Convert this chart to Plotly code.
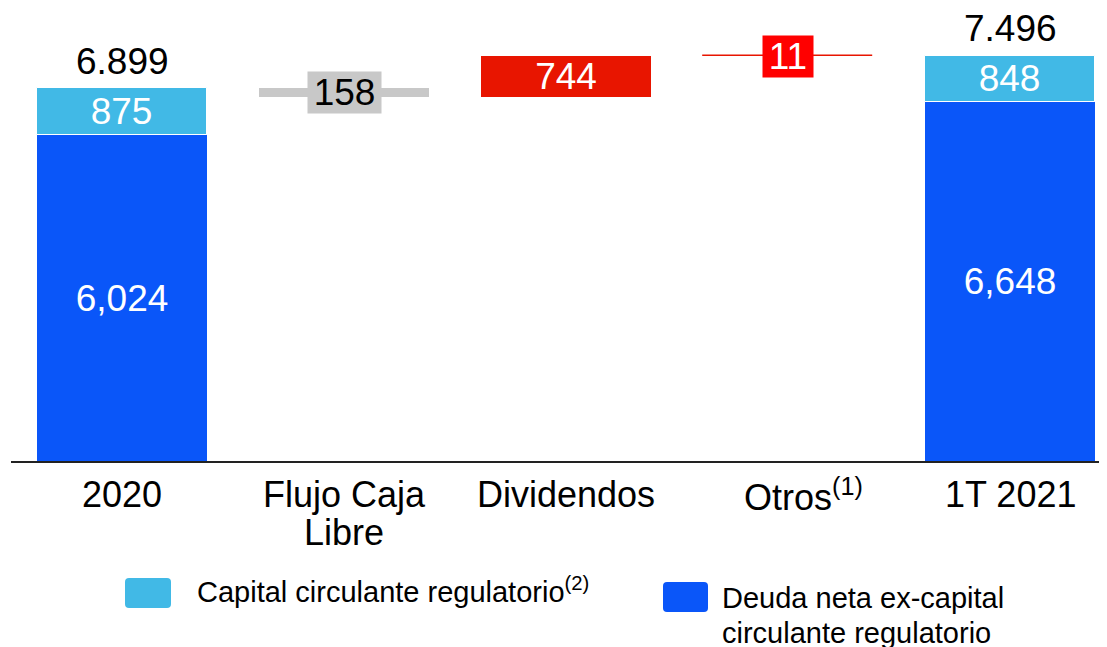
import plotly.graph_objects as go

# ---------------- data ----------------
categories = ["2020", "Flujo Caja<br>Libre", "Dividendos", "Otros<sup>(1)</sup>", "1T 2021"]
deuda_neta = [6024, 6648]          # Deuda neta ex-capital circulante regulatorio (2020, 1T 2021)
capital_circulante = [875, 848]    # Capital circulante regulatorio (2020, 1T 2021)
deuda_labels = ["6,024", "6,648"]
capital_labels = ["875", "848"]
total_labels = ["6.899", "7.496"]
flujo_caja = -158
dividendos = 744
otros = 11
step_labels = ["158", "744", "11"]
legend_labels = ["Capital circulante regulatorio<sup>(2)</sup>",
                 "Deuda neta ex-capital", "circulante regulatorio"]

# ---------------- style ----------------
FONT = "Liberation Sans, Arial, sans-serif"
DARK = "#0A56F9"
LIGHT = "#41B9E6"
RED = "#E81500"
RED2 = "#FF0000"
GRAY = "#C8C8C8"
W = 0.766
DATA_FS = 37
AXIS_FS = 36
LEG_FS = 29

# page offset of the figure (body margin) is 8px; plot area: page x 11..1107, page y 8..461
PLOT_W = 1096
PLOT_H = 453

end_x = [0, 4]
totals = [d + c for d, c in zip(deuda_neta, capital_circulante)]
after_flujo = totals[0] + flujo_caja
after_div = after_flujo + dividendos

fig = go.Figure()
common = dict(width=W, textposition="inside", insidetextanchor="middle",
              constraintext="none", cliponaxis=False, hoverinfo="skip")
fig.add_bar(x=end_x, y=deuda_neta, marker=dict(color=DARK, line=dict(width=0)),
            text=deuda_labels, textfont=dict(color="white", size=DATA_FS, family=FONT), **common)
fig.add_bar(x=end_x, y=capital_circulante, base=deuda_neta,
            marker=dict(color=LIGHT, line=dict(color="white", width=1)),
            text=capital_labels, textfont=dict(color="white", size=DATA_FS, family=FONT), **common)
fig.add_bar(x=[1], y=[-flujo_caja], base=[after_flujo], marker=dict(color=GRAY, line=dict(width=0)),
            **common)
fig.add_bar(x=[2], y=[dividendos], base=[after_flujo], marker=dict(color=RED, line=dict(width=0)),
            text=[step_labels[1]], textfont=dict(color="white", size=DATA_FS, family=FONT), **common)
fig.add_bar(x=[3], y=[otros], base=[after_div], marker=dict(color=RED, line=dict(color=RED, width=1.6)),
            **common)

ann = []
# totals above end bars
for xi, t, lab in zip(end_x, totals, total_labels):
    ann.append(dict(x=xi, y=t, xref="x", yref="y", text=lab, showarrow=False,
                    yanchor="middle", yshift=27, font=dict(size=DATA_FS, color="black", family=FONT)))
# step labels in boxes
ann.append(dict(x=1, y=after_flujo - flujo_caja / 2, xref="x", yref="y", text=step_labels[0],
                showarrow=False, bgcolor=GRAY, width=73, height=41, borderpad=0,
                font=dict(size=DATA_FS, color="black", family=FONT)))
ann.append(dict(x=3, y=after_div + otros / 2, xref="x", yref="y", text=step_labels[2],
                showarrow=False, bgcolor=RED2, width=50, height=41, borderpad=0,
                font=dict(size=DATA_FS, color="white", family=FONT)))
# category labels
for i, cat in enumerate(categories):
    lines = cat.split("<br>")
    for j, line in enumerate(lines):
        ann.append(dict(x=i, y=0, xref="x", yref="paper", text=line, showarrow=False,
                        yanchor="middle", yshift=-33.5 - 37.5 * j,
                        xshift=15 if "<sup>" in line else 0,
                        font=dict(size=AXIS_FS, color="black", family=FONT)))


def px_x(px):
    return (px - 11) / PLOT_W


def px_y(py):
    return (461 - py) / PLOT_H


def rounded(x0, y0, x1, y1, r):
    pts = [
        f"M {px_x(x0 + r)} {px_y(y0)}",
        f"L {px_x(x1 - r)} {px_y(y0)}",
        f"Q {px_x(x1)} {px_y(y0)} {px_x(x1)} {px_y(y0 + r)}",
        f"L {px_x(x1)} {px_y(y1 - r)}",
        f"Q {px_x(x1)} {px_y(y1)} {px_x(x1 - r)} {px_y(y1)}",
        f"L {px_x(x0 + r)} {px_y(y1)}",
        f"Q {px_x(x0)} {px_y(y1)} {px_x(x0)} {px_y(y1 - r)}",
        f"L {px_x(x0)} {px_y(y0 + r)}",
        f"Q {px_x(x0)} {px_y(y0)} {px_x(x0 + r)} {px_y(y0)}",
        "Z",
    ]
    return " ".join(pts)


shapes = [
    dict(type="path", xref="paper", yref="paper", path=rounded(125, 578, 171, 608, 4),
         fillcolor=LIGHT, line=dict(width=0)),
    dict(type="path", xref="paper", yref="paper", path=rounded(663, 582, 708, 612, 4),
         fillcolor=DARK, line=dict(width=0)),
]
ann.append(dict(x=px_x(195), y=0, xref="paper", yref="paper", text=legend_labels[0], showarrow=False,
                xanchor="left", yanchor="middle", yshift=-128.5,
                font=dict(size=LEG_FS, color="black", family=FONT)))
ann.append(dict(x=px_x(720), y=0, xref="paper", yref="paper", text=legend_labels[1], showarrow=False,
                xanchor="left", yanchor="middle", yshift=-136.5,
                font=dict(size=LEG_FS, color="black", family=FONT)))
ann.append(dict(x=px_x(720), y=0, xref="paper", yref="paper", text=legend_labels[2], showarrow=False,
                xanchor="left", yanchor="middle", yshift=-171.5,
                font=dict(size=LEG_FS, color="black", family=FONT)))

fig.update_layout(
    width=1099, height=639,
    margin=dict(l=3, r=0, t=0, b=639 - PLOT_H, pad=0),
    paper_bgcolor="white", plot_bgcolor="white",
    barmode="overlay", bargap=0, showlegend=False,
    font=dict(family=FONT),
    xaxis=dict(range=[-0.5, -0.5 + PLOT_W / 222], showticklabels=False, showgrid=False, zeroline=False,
               showline=True, linecolor="#222222", linewidth=2, ticks="", fixedrange=True),
    yaxis=dict(range=[0, PLOT_H / 0.05405], visible=False, fixedrange=True),
    annotations=ann, shapes=shapes,
)

fig.write_html("out.html")
